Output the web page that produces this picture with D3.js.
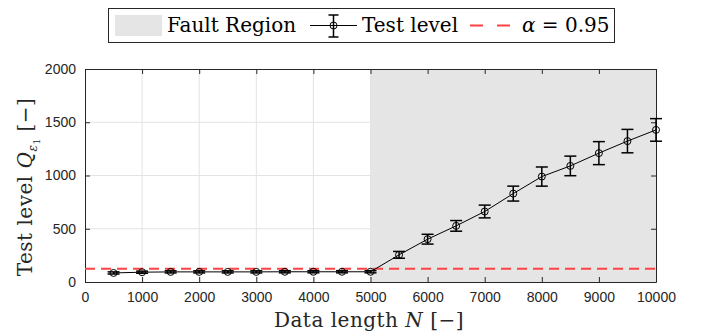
<!DOCTYPE html>
<html>
<head>
<meta charset="utf-8">
<script src="https://cdn.jsdelivr.net/npm/d3@7"></script>
<style>
body { margin: 0; background: #fff; }
svg { display: block; }
.tick text { font-family: "Liberation Sans", Arial, sans-serif; font-size: 14px; fill: #262626; }
.lab { font-family: "DejaVu Serif", "Liberation Serif", serif; fill: #262626; font-size: 20px; letter-spacing: 0.5px; }
.leg { font-family: "DejaVu Serif", "Liberation Serif", serif; fill: #000; font-size: 20px; }
</style>
</head>
<body>
<svg width="703" height="336"></svg>
<script>
const dataLength = [500, 1000, 1500, 2000, 2500, 3000, 3500, 4000, 4500, 5000,
    5500, 6000, 6500, 7000, 7500, 8000, 8500, 9000, 9500, 10000];
const testLevel = [85, 92, 95, 95, 95, 95, 96, 96, 96, 96,
    255, 402, 527, 662, 830, 990, 1090, 1210, 1323, 1428];
const errorHalf = [10, 10, 10, 10, 10, 10, 10, 10, 10, 10,
    32, 46, 50, 60, 70, 90, 92, 108, 110, 106];
const threshold = 125;
const faultRegion = [5000, 10000];
const xTicks = [0, 1000, 2000, 3000, 4000, 5000, 6000, 7000, 8000, 9000, 10000];
const yTicks = [0, 500, 1000, 1500, 2000];

var svg = d3.select("svg");
var mLeft = 85, mRight = 656, mTop = 69, mBottom = 282;

var x = d3.scaleLinear().domain([0, 10000]).range([mLeft, mRight]);
var y = d3.scaleLinear().domain([0, 2000]).range([mBottom, mTop]);

// grid
var grid = svg.append("g");
grid.selectAll(".gx").data(xTicks.slice(1, -1)).enter().append("line")
    .attr("x1", d => x(d)).attr("x2", d => x(d))
    .attr("y1", mTop).attr("y2", mBottom)
    .attr("stroke", "#e3e3e3").attr("stroke-width", 1);
grid.selectAll(".gy").data(yTicks.slice(1, -1)).enter().append("line")
    .attr("x1", mLeft).attr("x2", mRight)
    .attr("y1", d => y(d)).attr("y2", d => y(d))
    .attr("stroke", "#e3e3e3").attr("stroke-width", 1);

// fault region
svg.append("rect")
    .attr("x", x(faultRegion[0])).attr("y", mTop)
    .attr("width", x(faultRegion[1]) - x(faultRegion[0]))
    .attr("height", mBottom - mTop)
    .attr("fill", "#e5e5e5");

// axes
var axB = svg.append("g").attr("transform", `translate(0,${mBottom})`)
    .call(d3.axisBottom(x).tickValues(xTicks).tickSizeInner(-5).tickSizeOuter(0).tickPadding(10).tickFormat(d3.format("d")));
var axT = svg.append("g").attr("transform", `translate(0,${mTop})`)
    .call(d3.axisTop(x).tickValues(xTicks).tickSizeInner(-5).tickSizeOuter(0).tickFormat(""));
var axL = svg.append("g").attr("transform", `translate(${mLeft},0)`)
    .call(d3.axisLeft(y).tickValues(yTicks).tickSizeInner(-5).tickSizeOuter(0).tickPadding(9).tickFormat(d3.format("d")));
var axR = svg.append("g").attr("transform", `translate(${mRight},0)`)
    .call(d3.axisRight(y).tickValues(yTicks).tickSizeInner(-5).tickSizeOuter(0).tickFormat(""));
[axB, axT, axL, axR].forEach(a => {
    a.selectAll("path").attr("stroke", "#262626").attr("stroke-width", 1);
    a.selectAll("line").attr("stroke", "#262626");
});

// threshold
svg.append("line")
    .attr("x1", mLeft).attr("x2", mRight)
    .attr("y1", y(threshold)).attr("y2", y(threshold))
    .attr("stroke", "#ff4242").attr("stroke-width", 2)
    .attr("stroke-dasharray", "10,6");

// series
var pts = dataLength.map((d, i) => ({ n: d, q: testLevel[i], e: errorHalf[i] }));
svg.append("path").datum(pts)
    .attr("fill", "none").attr("stroke", "#000").attr("stroke-width", 1)
    .attr("d", d3.line().x(d => x(d.n)).y(d => y(d.q)));

var eb = svg.append("g").selectAll("g").data(pts).enter().append("g");
eb.append("line")
    .attr("x1", d => x(d.n)).attr("x2", d => x(d.n))
    .attr("y1", d => y(d.q - d.e)).attr("y2", d => y(d.q + d.e))
    .attr("stroke", "#000").attr("stroke-width", 1.5);
eb.selectAll(".cap").data(d => [[d.n, d.q - d.e], [d.n, d.q + d.e]]).enter().append("line")
    .attr("x1", d => x(d[0]) - 6).attr("x2", d => x(d[0]) + 6)
    .attr("y1", d => y(d[1])).attr("y2", d => y(d[1]))
    .attr("stroke", "#000").attr("stroke-width", 1.5);
eb.append("circle")
    .attr("cx", d => x(d.n)).attr("cy", d => y(d.q)).attr("r", 3.5)
    .attr("fill", "none").attr("stroke", "#000").attr("stroke-width", 1);

// labels
svg.append("text").attr("class", "lab")
    .attr("x", 369).attr("y", 327)
    .attr("text-anchor", "middle")
    .html('Data length <tspan font-style="italic">N</tspan> [\u2212]');
svg.append("text").attr("class", "lab")
    .attr("transform", `translate(32,187) rotate(-90)`)
    .attr("text-anchor", "middle")
    .html('Test level <tspan font-style="italic">Q</tspan><tspan font-style="italic" font-size="12" dy="5">\u03b5</tspan><tspan font-size="9" dy="3">1</tspan><tspan dy="-8"> [\u2212]</tspan>');

// legend
var lg = svg.append("g");
lg.append("rect").attr("x", 108.5).attr("y", 8.5).attr("width", 506).attr("height", 34)
    .attr("fill", "#fff").attr("stroke", "#262626").attr("stroke-width", 1);
lg.append("rect").attr("x", 115).attr("y", 15).attr("width", 47).attr("height", 21).attr("fill", "#e5e5e5");
lg.append("text").attr("class", "leg").attr("x", 167).attr("y", 32).text("Fault Region");
lg.append("line").attr("x1", 310).attr("x2", 357).attr("y1", 25.5).attr("y2", 25.5).attr("stroke", "#000");
lg.append("line").attr("x1", 333.5).attr("x2", 333.5).attr("y1", 15).attr("y2", 37).attr("stroke", "#000").attr("stroke-width", 1.5);
lg.append("line").attr("x1", 328.5).attr("x2", 338.5).attr("y1", 15).attr("y2", 15).attr("stroke", "#000").attr("stroke-width", 1.5);
lg.append("line").attr("x1", 328.5).attr("x2", 338.5).attr("y1", 37).attr("y2", 37).attr("stroke", "#000").attr("stroke-width", 1.5);
lg.append("circle").attr("cx", 333.5).attr("cy", 25.5).attr("r", 3.5).attr("fill", "none").attr("stroke", "#000");
lg.append("text").attr("class", "leg").attr("x", 362).attr("y", 32).text("Test level");
lg.append("line").attr("x1", 470).attr("x2", 510).attr("y1", 25.5).attr("y2", 25.5)
    .attr("stroke", "#ff4242").attr("stroke-width", 2).attr("stroke-dasharray", "13,14");
lg.append("text").attr("class", "leg").attr("x", 522).attr("y", 32)
    .html('<tspan font-style="italic">\u03b1</tspan> = 0.95');
</script>
</body>
</html>
